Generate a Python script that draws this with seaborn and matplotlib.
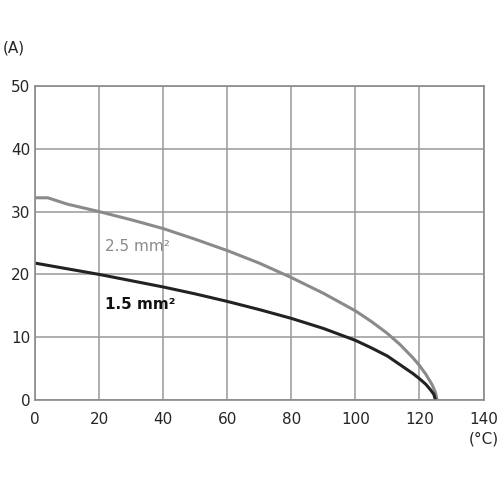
import numpy as np
import pandas as pd
import matplotlib
matplotlib.use("Agg")
import matplotlib.pyplot as plt
import seaborn as sns

# Values
temp_25 = [0, 4, 10, 20, 30, 40, 50, 60, 70, 80, 90, 100, 105, 110, 114, 118, 120, 122, 124, 125, 125.5]
amps_25 = [32.2, 32.2, 31.2, 30.0, 28.7, 27.3, 25.6, 23.8, 21.8, 19.5, 17.0, 14.2, 12.5, 10.6, 8.8, 6.7, 5.5, 4.1, 2.4, 1.2, 0]
temp_15 = [0, 10, 20, 30, 40, 50, 60, 70, 80, 90, 100, 105, 110, 114, 118, 120, 122, 123.5, 124.5, 125]
amps_15 = [21.8, 20.9, 20.0, 19.0, 18.0, 16.9, 15.7, 14.4, 13.0, 11.4, 9.5, 8.3, 7.0, 5.6, 4.2, 3.4, 2.5, 1.6, 0.9, 0]

df = pd.concat([
    pd.DataFrame({"t": temp_25, "a": amps_25, "s": "2.5 mm²"}),
    pd.DataFrame({"t": temp_15, "a": amps_15, "s": "1.5 mm²"}),
])

sns.set_style("white")
plt.rcParams['font.family'] = ['DejaVu Sans']
fig = plt.figure(figsize=(5, 5), dpi=100)
ax = fig.add_axes([0.07, 0.2, 0.897, 0.628])

sns.lineplot(data=df, x="t", y="a", hue="s", palette={"2.5 mm²": "#8a8a8a", "1.5 mm²": "#222222"},
             linewidth=2.2, sort=False, estimator=None, legend=False, ax=ax)

ax.set_xlim(0, 140)
ax.set_ylim(0, 50)
ax.set_xticks(range(0, 141, 20))
ax.set_xticks(range(0, 141, 10), minor=True)
ax.set_yticks(range(0, 51, 10))
ax.grid(True, color="#999999", linewidth=1.1)
for s in ax.spines.values():
    s.set_color("#8a8a8a")
    s.set_linewidth(1.2)
ax.tick_params(axis="x", which="both", direction="out", length=5, color="#8a8a8a", labelsize=11)
ax.tick_params(axis="y", length=0, labelsize=11)
ax.set_xlabel("")
ax.set_ylabel("")
fig.text(0.005, 0.895, "(A)", fontsize=11)
ax.text(1.0, -0.14, "(°C)", transform=ax.transAxes, fontsize=11, ha="center")
ax.text(22, 23.8, "2.5 mm²", color="#8a8a8a", fontsize=11)
ax.text(22, 14.5, "1.5 mm²", color="#111111", fontsize=11, fontweight="bold")

fig.savefig("out.png", dpi=100, facecolor="white")
